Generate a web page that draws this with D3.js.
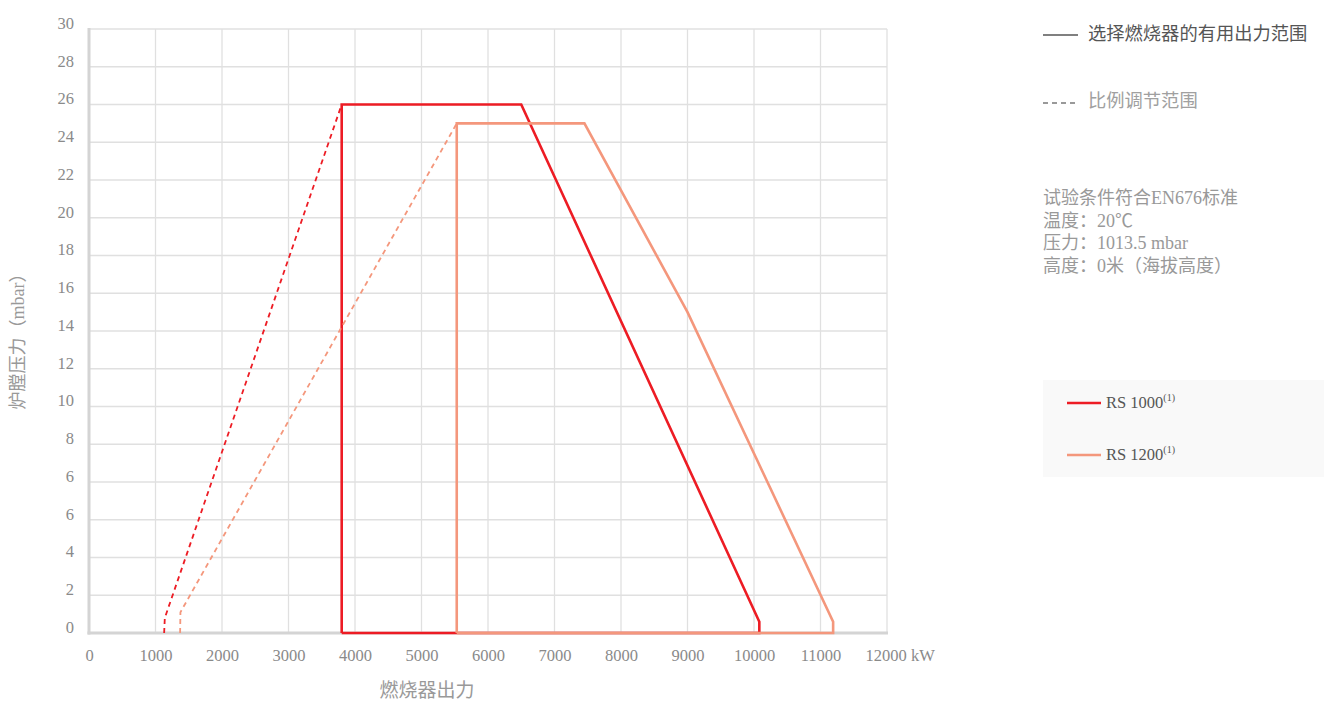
<!DOCTYPE html>
<html><head><meta charset="utf-8">
<script src="https://cdn.jsdelivr.net/npm/d3@7"></script>
<style>
body{margin:0;background:#fff;}
svg{display:block;}
text{font-family:"Liberation Serif","Noto Sans CJK SC",serif;}
</style></head>
<body>
<svg id="c" width="1324" height="704"></svg>
<script>
// ---- data ----
const xTicks = [0,1000,2000,3000,4000,5000,6000,7000,8000,9000,10000,11000,12000];
const yTickLabels = ["0","2","4","6","6","8","10","12","14","16","18","20","22","24","26","28","30"];
const seriesNames = ["RS 1000","RS 1200"];
const rs1000Range = [[3800,0],[3800,26],[6500,26],[10080,0.6],[10080,0],[3800,0]];
const rs1000Mod = [[1130,0],[1140,0.8],[3800,26]];
const rs1200Range = [[5530,0],[5530,25],[7450,25],[9000,15],[11190,0.6],[11190,0],[5530,0]];
const rs1200Mod = [[1370,0],[1375,1.1],[5530,25]];
const notes = ["试验条件符合EN676标准","温度：20℃","压力：1013.5 mbar","高度：0米（海拔高度）"];

const colors = ["#ed1c24","#f4977c"];
const L=89,R=887,T=29,B=633;
const svg = d3.select("#c");

const x = d3.scaleLinear().domain([0,12000]).range([L,R]);
const yIdx = d3.scaleLinear().domain([0,yTickLabels.length-1]).range([B,T]);
// axis labels repeat "6", so values map piecewise onto the grid
const y = d3.scaleLinear().domain([0,6,6,30]).range([yIdx(0),yIdx(3),yIdx(4),yIdx(16)]);

// grid
const g = svg.append("g");
g.selectAll(".vg").data(xTicks.slice(1)).join("line")
  .attr("x1",d=>x(d)).attr("x2",d=>x(d)).attr("y1",T).attr("y2",B)
  .attr("stroke","#e0e0e0").attr("stroke-width",1.3);
g.selectAll(".hg").data(d3.range(1,yTickLabels.length)).join("line")
  .attr("x1",L).attr("x2",R).attr("y1",d=>yIdx(d)).attr("y2",d=>yIdx(d))
  .attr("stroke","#e0e0e0").attr("stroke-width",1.3);
g.append("line").attr("x1",L).attr("x2",L).attr("y1",T-1).attr("y2",B+1.5).attr("stroke","#d4d4d4").attr("stroke-width",3);
g.append("line").attr("x1",L-1.5).attr("x2",R+1).attr("y1",B).attr("y2",B).attr("stroke","#d4d4d4").attr("stroke-width",3);

// axes (labels only)
const xAxis = d3.axisBottom(x).tickValues(xTicks).tickSize(0).tickPadding(0).tickFormat(d=>d);
const xa = svg.append("g").attr("transform",`translate(0,${B})`).call(xAxis);
xa.select(".domain").remove();
xa.selectAll("text").attr("fill","#8a8a8a").attr("font-size",16.5).attr("dy",null)
  .attr("y",24).attr("dominant-baseline","middle")
  .attr("font-family","Liberation Serif, serif");
xa.selectAll("text").filter(d=>d===12000).text("12000 kW").attr("text-anchor","start").attr("x",-22);

const yAxis = d3.axisLeft(yIdx).tickValues(d3.range(yTickLabels.length)).tickSize(0).tickPadding(0)
  .tickFormat(i=>yTickLabels[i]);
const ya = svg.append("g").attr("transform",`translate(${L-15},0)`).call(yAxis);
ya.select(".domain").remove();
ya.selectAll("text").attr("fill","#8a8a8a").attr("font-size",16.5).attr("dy",null)
  .attr("y",-4.5).attr("dominant-baseline","middle").attr("x",0)
  .attr("font-family","Liberation Serif, serif");

// titles
svg.append("text").attr("x",427).attr("y",693).attr("text-anchor","middle").attr("dominant-baseline","middle")
  .attr("font-size",19).attr("fill","#999").text("燃烧器出力");
svg.append("text").attr("transform","translate(20,337) rotate(-90)").attr("text-anchor","middle").attr("dominant-baseline","middle")
  .attr("font-size",18).attr("fill","#999").text("炉膛压力（mbar）");

// series
const line = d3.line().x(d=>x(d[0])).y(d=>y(d[1]));
const sets = [[rs1000Range,rs1000Mod],[rs1200Range,rs1200Mod]];
sets.forEach((s,i)=>{
  svg.append("path").attr("d",line(s[1])).attr("fill","none").attr("stroke",colors[i])
    .attr("stroke-width",1.8).attr("stroke-dasharray","5,4");
  svg.append("path").attr("d",line(s[0])).attr("fill","none").attr("stroke",colors[i])
    .attr("stroke-width",2.6).attr("stroke-linejoin","miter");
});

// legend top right
svg.append("line").attr("x1",1043).attr("x2",1078).attr("y1",35).attr("y2",35).attr("stroke","#808080").attr("stroke-width",2);
svg.append("text").attr("x",1088).attr("y",36).attr("dominant-baseline","middle").attr("font-size",18.3).attr("fill","#555")
  .text("选择燃烧器的有用出力范围");
svg.append("line").attr("x1",1043).attr("x2",1078).attr("y1",103).attr("y2",103).attr("stroke","#999").attr("stroke-width",2).attr("stroke-dasharray","5,4");
svg.append("text").attr("x",1088).attr("y",103).attr("dominant-baseline","middle").attr("font-size",18.3).attr("fill","#a0a0a0")
  .text("比例调节范围");

// notes
svg.selectAll(".note").data(notes).join("text")
  .attr("x",1043).attr("y",(d,i)=>200+i*22.5).attr("dominant-baseline","middle")
  .attr("font-size",18).attr("fill","#999").text(d=>d);

// series legend box
svg.append("rect").attr("x",1043).attr("y",380).attr("width",281).attr("height",97).attr("fill","#f9f9f9");
seriesNames.forEach((n,i)=>{
  const yy = 403 + i*52;
  svg.append("line").attr("x1",1067).attr("x2",1101).attr("y1",yy).attr("y2",yy).attr("stroke",colors[i]).attr("stroke-width",2.6);
  const t = svg.append("text").attr("x",1106).attr("y",yy+1).attr("dominant-baseline","middle").attr("font-size",16.5).attr("fill","#555");
  t.append("tspan").text(n);
  t.append("tspan").attr("font-size",10).attr("dy",-5).text("(1)");
});
</script>
</body></html>
